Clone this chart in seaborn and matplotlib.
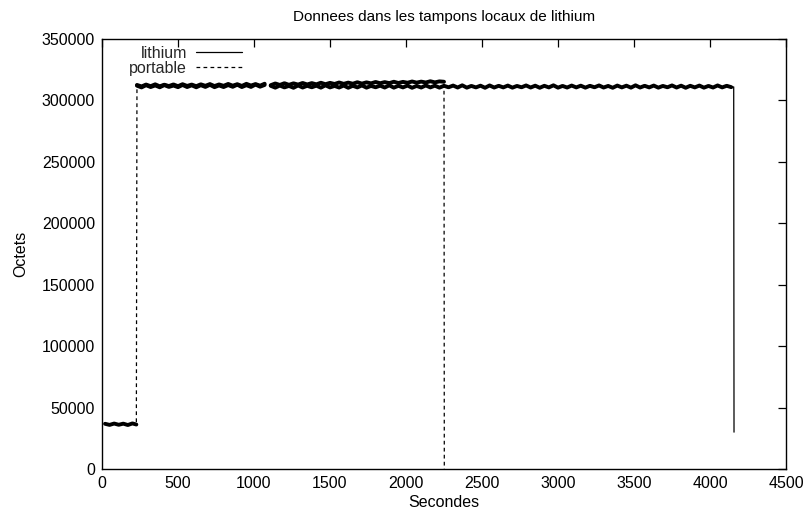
import numpy as np
import pandas as pd
import matplotlib
matplotlib.use("Agg")
import matplotlib.pyplot as plt
import seaborn as sns

# ---------------- data (octets in thousands, times in seconds) ----------------
series_names = ["lithium", "portable"]

# portable: low level before the jump
portable_low_t = [20, 50, 80, 110, 140, 170, 200, 226]
portable_low_v = [36.8, 35.9, 37.0, 36.0, 36.9, 35.8, 37.1, 36.2]

# first plateau (both series), sampled every 30 s
seg1_t = np.arange(230, 1091, 30)
lithium_seg1_v = [312.0, 310.6, 312.4, 310.9, 312.2, 310.7, 312.5, 311.0, 312.1, 310.8,
                  312.6, 310.9, 312.3, 310.7, 312.4, 311.0, 312.7, 310.8, 312.2, 310.9,
                  312.5, 311.1, 312.8, 310.9, 312.4, 311.0, 312.9, 311.2, 312.6]
portable_seg1_v = [312.6, 311.4, 312.9, 311.6, 313.1, 311.5, 312.8, 311.7, 313.0, 311.6,
                   313.2, 311.8, 312.9, 311.6, 313.1, 311.9, 313.3, 311.7, 313.0, 311.9,
                   313.4, 312.0, 313.2, 311.8, 313.5, 312.1, 313.3, 312.0, 313.6]

# second plateau, portable until it stops at 2250 s
portable_seg2_t = np.arange(1110, 2251, 30)
portable_seg2_v = [312.4, 313.8, 312.6, 314.0, 312.7, 313.9, 312.9, 314.2, 313.0, 314.1,
                   313.1, 314.4, 313.2, 314.3, 313.4, 314.6, 313.5, 314.5, 313.6, 314.8,
                   313.7, 314.7, 313.9, 315.0, 314.0, 314.9, 314.1, 315.2, 314.2, 315.1,
                   314.4, 315.4, 314.5, 315.3, 314.6, 315.6, 314.7, 315.5, 315.2]
portable_end_t = [2252]
portable_end_v = [0.0]

# second plateau, lithium until it stops at ~4158 s
lithium_seg2_t = np.arange(1110, 4141, 30)
lithium_seg2_v = [311.9, 310.4, 312.1, 310.6, 311.8, 310.3, 312.2, 310.5, 311.9, 310.7,
                  312.0, 310.4, 312.3, 310.6, 311.8, 310.5, 312.1, 310.3, 311.9, 310.6,
                  312.2, 310.4, 311.8, 310.7, 312.0, 310.5, 312.3, 310.4, 311.9, 310.6,
                  312.1, 310.3, 311.8, 310.5, 312.2, 310.6, 312.0, 310.4, 311.9, 310.7,
                  312.1, 310.5, 312.3, 310.4, 311.8, 310.6, 312.0, 310.3, 312.2, 310.5,
                  311.9, 310.6, 312.1, 310.4, 311.8, 310.7, 312.2, 310.5, 312.0, 310.3,
                  311.9, 310.6, 312.3, 310.4, 311.8, 310.5, 312.1, 310.6, 312.0, 310.4,
                  311.9, 310.7, 312.2, 310.5, 311.8, 310.3, 312.1, 310.6, 312.0, 310.4,
                  312.3, 310.5, 311.9, 310.6, 312.1, 310.4, 311.8, 310.7, 312.2, 310.5,
                  312.0, 310.3, 311.9, 310.6, 312.1, 310.4, 311.8, 310.5, 312.2, 310.6,
                  311.9, 310.8]
lithium_end_t = [4156, 4158]
lithium_end_v = [311.0, 30.0]

x_ticks = [0, 500, 1000, 1500, 2000, 2500, 3000, 3500, 4000, 4500]
y_ticks = [0, 50000, 100000, 150000, 200000, 250000, 300000, 350000]

# ---------------- build long tables ----------------
def table(parts):
    rows = []
    for name, unit, ts, vs in parts:
        for t, v in zip(ts, vs):
            rows.append({"serie": name, "unit": unit, "Secondes": float(t), "Octets": v * 1000.0})
    return pd.DataFrame(rows)

# full traces (thin lines, with the jumps and drops)
df = table([
    ("lithium", 0, seg1_t, lithium_seg1_v),
    ("lithium", 1, list(lithium_seg2_t) + lithium_end_t, lithium_seg2_v + lithium_end_v),
    ("portable", 2, portable_low_t + list(seg1_t), portable_low_v + portable_seg1_v),
    ("portable", 3, list(portable_seg2_t) + portable_end_t, portable_seg2_v + portable_end_v),
])
# noisy plateaus only (drawn as a dense band)
band = table([
    ("lithium", 0, seg1_t, lithium_seg1_v),
    ("lithium", 1, lithium_seg2_t, lithium_seg2_v),
    ("portable", 2, portable_low_t, portable_low_v),
    ("portable", 3, seg1_t, portable_seg1_v),
    ("portable", 4, portable_seg2_t, portable_seg2_v),
])

# ---------------- plot ----------------
sns.set_theme(style="white")
plt.rcParams["font.family"] = ["Liberation Sans", "DejaVu Sans"]

fig = plt.figure(figsize=(8.04, 5.14), dpi=100)
ax = fig.add_axes([102 / 804, 1 - 469 / 514, (786 - 102) / 804, (469 - 39) / 514])

sns.lineplot(data=band, x="Secondes", y="Octets", units="unit", estimator=None,
             sort=False, color="black", linewidth=2.8, legend=False, ax=ax)
sns.lineplot(data=df, x="Secondes", y="Octets", style="serie", units="unit",
             estimator=None, sort=False, color="black", linewidth=0.9,
             style_order=series_names,
             dashes={"lithium": "", "portable": (3.0, 2.6)}, ax=ax, legend=True)

ax.set_xlim(0, 4500)
ax.set_ylim(0, 350000)
ax.set_xticks(x_ticks)
ax.set_yticks(y_ticks)
ax.set_xticklabels([str(v) for v in x_ticks])
ax.set_yticklabels([str(v) for v in y_ticks])

ax.tick_params(direction="in", length=6, width=0.9, top=True, right=True,
               labelsize=11.5, colors="black", pad=5)
for sp in ax.spines.values():
    sp.set_color("black")
    sp.set_linewidth(1.0)
    sp.set_visible(True)

ax.set_title("Donnees dans les tampons locaux de lithium", fontsize=11, pad=13, color="black")
ax.set_xlabel("Secondes", fontsize=11.5, labelpad=3, color="black")
ax.set_ylabel("Octets", fontsize=11.5, labelpad=10, color="black")

handles, labels = ax.get_legend_handles_labels()
for h in handles:
    h.set_linewidth(0.9)
ax.legend(handles, labels, loc="upper left", markerfirst=False, frameon=False,
          bbox_to_anchor=(129 / 804, 1 - 46 / 514), bbox_transform=fig.transFigure,
          borderpad=0, borderaxespad=0, handlelength=2.9, handletextpad=0.55,
          labelspacing=0.0, fontsize=11.5)

fig.savefig("out.png", dpi=100, facecolor="white")
